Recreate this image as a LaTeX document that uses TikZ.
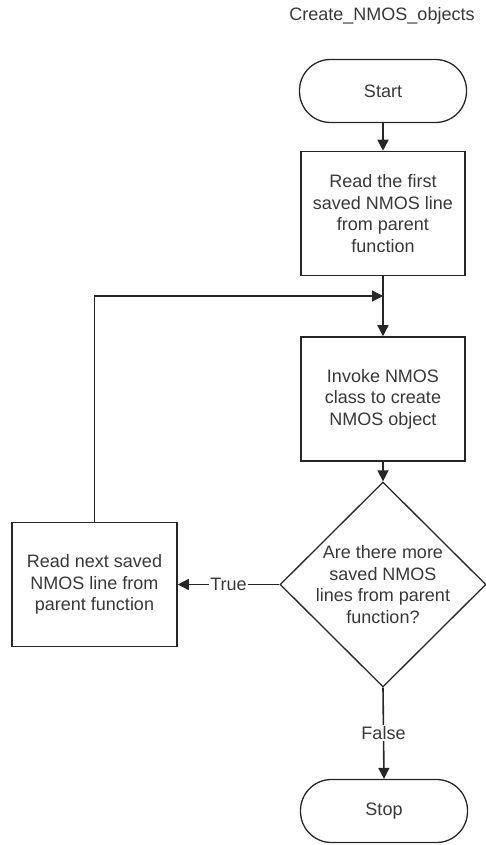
\documentclass[tikz,border=0pt]{standalone}
\usepackage{fontspec}
\setmainfont{Liberation Sans}
\usetikzlibrary{shapes.geometric,arrows.meta}
\begin{document}
\begin{tikzpicture}[x=1pt,y=-1pt,
  every node/.style={font=\fontsize{18}{21.5}\selectfont, text=black!78},
  procbox/.style={draw=black!85, line width=1.6pt, minimum width=164pt, minimum height=124pt, inner sep=0pt, align=center},
  term/.style={draw=black!85, line width=1.3pt, rounded corners=31pt, minimum width=167pt, minimum height=63pt, inner sep=0pt},
  decbox/.style={diamond, draw=black!85, line width=1.3pt, minimum width=206pt, minimum height=205pt, inner sep=0pt},
  flow/.style={draw=black!85, line width=1.6pt, -{Triangle[length=11pt,width=11pt]}},
  lbl/.style={fill=white, inner sep=1.5pt}
]
\useasboundingbox (0,0) rectangle (486,845);
\node (title) at (382,16) {Create\_NMOS\_objects};
\node[term] (start) at (383,91) {Start};
\node[procbox] (b1) at (383,213.5) {Read the first\\saved NMOS line\\from parent\\function};
\node[procbox] (b2) at (383,399) {Invoke NMOS\\class to create\\NMOS object};
\node[decbox] (dec) at (383,584.5) {};
\node[align=center] (dectext) at (dec.center) {Are there more\\saved NMOS\\lines from parent\\function?};
\node[procbox, minimum width=165pt] (left) at (94.5,584.5) {Read next saved\\NMOS line from\\parent function};
\node[term] (stop) at (384,811) {Stop};
\coordinate (j) at (383,296);

\draw[flow] (start) -- (b1);
\draw[flow] (b1) -- (b2);
\draw[flow] (b2) -- (dec);
\draw[flow] (dec.west) -- node[lbl] {True} (left.east);
\draw[flow] (left.north) |- (j);
\draw[flow] (dec.south) -- node[lbl] {False} (stop.north);
\end{tikzpicture}
\end{document}
